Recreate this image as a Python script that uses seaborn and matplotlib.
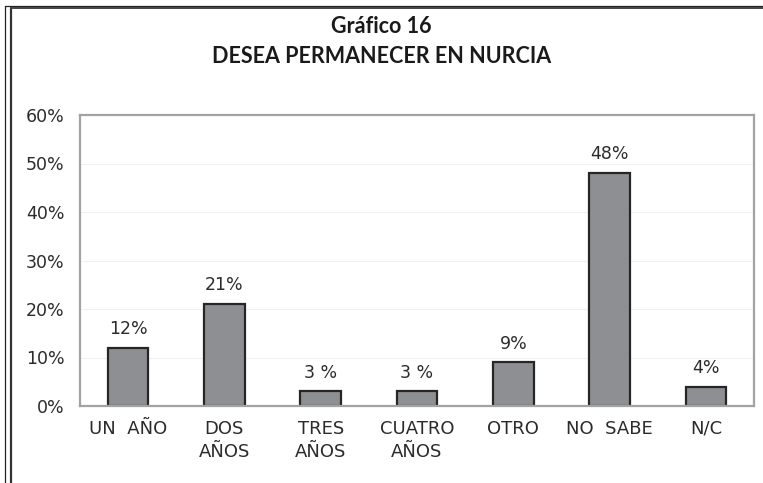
import matplotlib
matplotlib.use("Agg")
import matplotlib.pyplot as plt
from matplotlib.lines import Line2D
import seaborn as sns
import pandas as pd

categories = ["UN  AÑO", "DOS\nAÑOS", "TRES\nAÑOS", "CUATRO\nAÑOS", "OTRO", "NO  SABE", "N/C"]
values = [12, 21, 3, 3, 9, 48, 4]
value_labels = ["12%", "21%", "3 %", "3 %", "9%", "48%", "4%"]
y_ticks = [0, 10, 20, 30, 40, 50, 60]
y_tick_labels = ["0%", "10%", "20%", "30%", "40%", "50%", "60%"]
title_lines = ["Gráfico 16", "DESEA PERMANECER EN NURCIA"]

sns.set_style("white")
plt.rcParams['font.family'] = ['DejaVu Sans']

W, H = 763, 483
fig = plt.figure(figsize=(W / 100, H / 100), dpi=100)
ax = fig.add_axes([80 / W, (H - 406) / H, 674 / W, 291 / H])

df = pd.DataFrame({"cat": categories, "val": values})
sns.barplot(data=df, x="cat", y="val", color="#8e8f93", edgecolor="#262626",
            linewidth=1.6, width=0.42, saturation=1, ax=ax)

ax.set_xlim(-0.5, len(categories) - 0.5)
ax.set_ylim(0, 60)
ax.set_yticks(y_ticks)
ax.set_yticklabels(y_tick_labels)
ax.set_xlabel("")
ax.set_ylabel("")
ax.yaxis.grid(True, color="#f1f1f1", linewidth=0.8)
ax.set_axisbelow(True)
ax.tick_params(axis="both", length=0, labelsize=12.5, colors="#2b2b2b")
ax.tick_params(axis="y", pad=11)
ax.tick_params(axis="x", pad=10, labelsize=13)
for lbl in ax.get_xticklabels():
    lbl.set_linespacing(1.35)
for s in ax.spines.values():
    s.set_visible(True)
    s.set_color("#a3a3a3")
    s.set_linewidth(1.6)

ax.bar_label(ax.containers[0], labels=value_labels, padding=7, fontsize=12.5, color="#2b2b2b")

fig.text(0.5, 1 - 33 / H, title_lines[0], ha="center", va="baseline",
         fontsize=15.5, fontweight="bold", color="#1a1a1a", family=["Lato", "DejaVu Sans"])
fig.text(0.5, 1 - 63 / H, title_lines[1], ha="center", va="baseline",
         fontsize=15.5, fontweight="bold", color="#1a1a1a", family=["Lato", "DejaVu Sans"])

# frame lines
fig.add_artist(Line2D([4.5 / W, 4.5 / W], [0, 1 - 6 / H], transform=fig.transFigure,
                      color="#222222", linewidth=0.9))
fig.add_artist(Line2D([10.5 / W, 10.5 / W], [0, 1 - 8 / H], transform=fig.transFigure,
                      color="#333333", linewidth=1.6))
fig.add_artist(Line2D([4.5 / W, 1], [1 - 6 / H, 1 - 6 / H], transform=fig.transFigure,
                      color="#222222", linewidth=0.9))
fig.add_artist(Line2D([10.5 / W, 1], [1 - 8 / H, 1 - 8 / H], transform=fig.transFigure,
                      color="#444444", linewidth=1.4))

fig.savefig("out.png", dpi=100)
